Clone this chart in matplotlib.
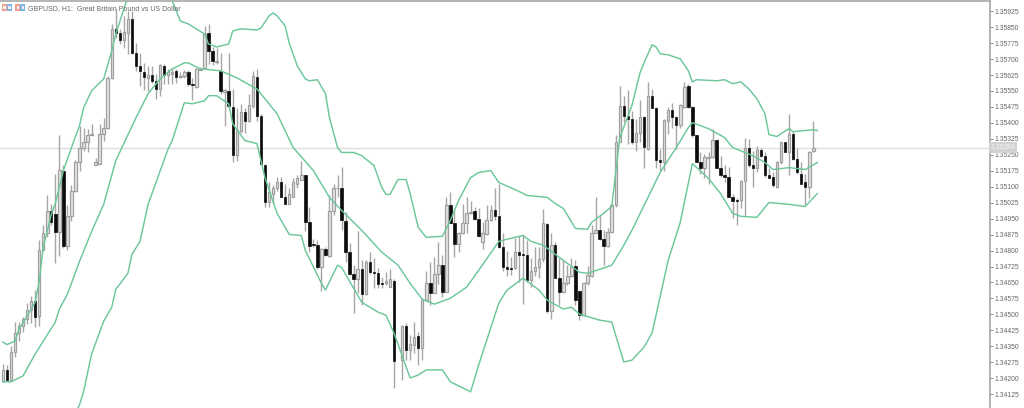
#!/usr/bin/env python3
"""GBPUSD H1 candlestick chart with Bollinger bands, MetaTrader look."""

import numpy as np
import matplotlib
matplotlib.use("Agg")
import matplotlib.pyplot as plt
from matplotlib.patches import Rectangle

nan = np.nan

# prices in 1e-5 units (134187 -> 1.34187), one slot per bar
opens = [
    134187, 134239, 134192, 134323, 134412, 134445, 134478, 134520, 134562, 134492,
    134801, 134881, 134984, 134970, 134886, 135176, 134820, 134961, 135082, 135218,
    135284, 135312, 135345, 135204, 135209, 135350, 135378, 135612, 135842, 135823,
    135790, 135823, 135889, 135729, 135668, 135640, 135612, 135626, 135598, 135560,
    135668, 135626, 135631, 135645, 135617, 135621, 135640, 135584, 135570, 135650,
    135659, 135823, 135739, 135687, 135645, 135546, 135551, 135476, 135251, 135364,
    135453, 135410, 135481, 135617, 135434, 135204, 135026, 135068, 135092, 135120,
    135050, 135021, 135054, 135115, 135134, 135153, 134933, 134829, 134825, 134721,
    134806, 134773, 134984, 135092, 135096, 134937, 134792, 134689, 134665, 134712,
    134595, 134745, 134698, 134693, 134646, 134646, 134628, 134656, nan, 134285,
    134445, 134332, 134356, 134398, 134342, 134567, 134646, 134600, 134689, 134731,
    134605, 135012, 134928, 134829, 134881, 134928, 134975, 134984, 134947, 134839,
    134876, 134942, 134989, 134961, 134815, 134721, 134717, 134717, 134792, 134782,
    134778, 134660, 134703, 134721, 134759, 134923, 134515, 134825, 134670, 134605,
    134646, 134679, 134726, 134609, 134496, 134646, 134679, 134881, 134895, 134853,
    134820, 134886, 135012, 135312, 135481, 135434, 135420, 135308, 135354, 135429,
    135279, 135528, 135471, 135228, 135214, 135410, 135462, 135429, 135392, 135476,
    135575, 135476, 135341, 135218, 135186, 135237, 135242, 135321, 135190, 135153,
    135148, 135054, 135040, 135040, 135129, 135284, 135200, 135186, 135275, 135246,
    135157, 135148, 135101, 135214, 135308, 135265, 135350, 135232, 135162, 135120,
    135101, 135270,
]
highs = [
    134266, 134262, 134351, 134464, 134464, 134487, 134553, 134586, 134614, 134848,
    134919, 135059, 135021, 135162, 135341, 135200, 135016, 135106, 135228, 135387,
    135378, 135373, 135396, 135237, 135396, 135424, 135621, 135865, 135935, 135842,
    135903, 135926, 135926, 135776, 135729, 135682, 135668, 135668, 135631, 135678,
    135678, 135654, 135654, 135654, 135640, 135650, 135650, 135612, 135659, 135664,
    135856, 135865, 135757, 135753, 135729, 135560, 135729, 135560, 135471, 135490,
    135471, 135537, 135645, 135654, 135443, 135209, 135120, 135106, 135148, 135148,
    135115, 135092, 135139, 135153, 135223, 135157, 135003, 134853, 134848, 134810,
    134815, 135059, 135115, 135153, 135195, 134979, 134834, 134731, 134890, 134754,
    134754, 134792, 134763, 134717, 134675, 134698, 134712, 134665, nan, 134450,
    134459, 134403, 134464, 134417, 134576, 134703, 134745, 134768, 134839, 134778,
    135050, 135073, 134989, 134886, 135021, 135050, 135035, 135003, 134998, 134933,
    135012, 135012, 135096, 135111, 134881, 134796, 134768, 134857, 134867, 134871,
    134848, 134763, 134815, 134815, 134993, 134928, 134881, 134839, 134763, 134754,
    134731, 134763, 134754, 134614, 134651, 134726, 134919, 135054, 134961, 134895,
    134904, 135021, 135341, 135575, 135528, 135556, 135457, 135420, 135509, 135434,
    135593, 135560, 135476, 135279, 135420, 135476, 135495, 135434, 135490, 135593,
    135584, 135481, 135345, 135261, 135256, 135261, 135373, 135326, 135246, 135200,
    135195, 135068, 135045, 135134, 135331, 135326, 135270, 135293, 135284, 135261,
    135190, 135167, 135223, 135312, 135308, 135443, 135364, 135284, 135214, 135162,
    135270, 135410,
]
lows = [
    134183, 134187, 134187, 134299, 134374, 134417, 134454, 134459, 134440, 134445,
    134801, 134862, 134919, 134740, 134773, 134810, 134801, 134937, 135073, 135176,
    135270, 135261, 135341, 135200, 135209, 135317, 135373, 135607, 135800, 135771,
    135753, 135725, 135725, 135645, 135575, 135556, 135551, 135589, 135513, 135528,
    135584, 135584, 135584, 135589, 135612, 135612, 135575, 135509, 135565, 135650,
    135654, 135678, 135673, 135678, 135537, 135387, 135471, 135214, 135223, 135354,
    135354, 135406, 135471, 135410, 135200, 135003, 135007, 135017, 135082, 135050,
    135021, 135017, 135050, 135096, 135134, 134890, 134792, 134815, 134712, 134609,
    134773, 134768, 134965, 135050, 134895, 134745, 134684, 134506, 134600, 134543,
    134590, 134689, 134623, 134623, 134623, 134637, 134628, 134154, nan, 134192,
    134285, 134285, 134318, 134262, 134285, 134562, 134543, 134600, 134642, 134581,
    134605, 134928, 134768, 134792, 134876, 134881, 134970, 134942, 134862, 134806,
    134871, 134937, 134942, 134810, 134703, 134679, 134684, 134712, 134651, 134548,
    134651, 134628, 134679, 134670, 134745, 134506, 134478, 134670, 134543, 134600,
    134637, 134675, 134543, 134473, 134492, 134637, 134675, 134881, 134848, 134731,
    134815, 134881, 135003, 135308, 135406, 135303, 135303, 135270, 135308, 135186,
    135275, 135471, 135190, 135176, 135176, 135350, 135378, 135279, 135378, 135471,
    135471, 135336, 135214, 135162, 135143, 135115, 135237, 135190, 135148, 135120,
    135050, 134951, 134919, 134998, 134961, 135195, 135101, 135167, 135242, 135148,
    135143, 135101, 135096, 135209, 135261, 135153, 135228, 135162, 135115, 135012,
    135045, 135265,
]
closes = [
    134239, 134192, 134323, 134412, 134445, 134478, 134520, 134562, 134487, 134801,
    134881, 134984, 134933, 134886, 135181, 134820, 134961, 135082, 135218, 135284,
    135312, 135345, 135350, 135214, 135350, 135378, 135612, 135842, 135823, 135790,
    135828, 135889, 135729, 135668, 135645, 135617, 135626, 135598, 135560, 135673,
    135626, 135640, 135640, 135617, 135621, 135640, 135584, 135579, 135654, 135654,
    135818, 135739, 135692, 135692, 135551, 135556, 135481, 135251, 135368, 135453,
    135410, 135485, 135621, 135434, 135209, 135026, 135073, 135092, 135120, 135050,
    135021, 135068, 135120, 135139, 135153, 134933, 134820, 134825, 134721, 134806,
    134778, 134984, 135092, 135096, 134942, 134792, 134689, 134665, 134712, 134595,
    134745, 134698, 134693, 134642, 134642, 134656, 134665, 134281, nan, 134445,
    134332, 134360, 134393, 134342, 134567, 134646, 134600, 134689, 134731, 134605,
    135012, 134928, 134829, 134881, 134928, 134975, 134979, 134947, 134867, 134881,
    134942, 134989, 134961, 134815, 134721, 134712, 134712, 134792, 134778, 134778,
    134660, 134703, 134721, 134759, 134928, 134515, 134825, 134670, 134605, 134646,
    134679, 134721, 134567, 134496, 134646, 134684, 134881, 134895, 134853, 134820,
    134886, 135012, 135312, 135481, 135434, 135420, 135308, 135354, 135429, 135289,
    135528, 135471, 135228, 135214, 135415, 135462, 135429, 135392, 135485, 135570,
    135476, 135341, 135218, 135186, 135242, 135242, 135321, 135190, 135153, 135148,
    135054, 135035, 135035, 135129, 135284, 135200, 135186, 135275, 135246, 135153,
    135143, 135106, 135214, 135308, 135265, 135350, 135232, 135167, 135115, 135101,
    135265, 135284,
]

# Bollinger bands, read at a subset of bars (last ones run past the axes top/bottom)
upper_bars = [0, 1, 3, 4, 6, 8, 9, 10, 12, 13, 15, 17, 19, 20, 22, 25, 27, 28, 30, 31, 36, 42,
              44, 46, 50, 51, 53, 56, 57, 59, 63, 64, 66, 67, 68, 70, 71, 73, 75, 76, 78, 80,
              81, 83, 84, 87, 89, 92, 94, 95, 96, 98, 100, 101, 103, 105, 109, 111, 113, 116,
              118, 121, 123, 128, 130, 135, 137, 139, 142, 145, 146, 149, 151, 153, 156, 158,
              159, 161, 162, 163, 165, 168, 170, 171, 172, 177, 179, 181, 183, 185, 187, 189,
              190, 192, 193, 195, 196, 201, 202]
upper_band = [134370, 134358, 134374, 134431, 134492, 134557, 134656, 134815, 134970, 135021,
              135176, 135284, 135387, 135471, 135551, 135607, 135739, 135818, 135935, 135996,
              136137, 135973, 135879, 135865, 135818, 135771, 135757, 135771, 135832, 135842,
              135837, 135846, 135903, 135917, 135903, 135856, 135776, 135668, 135607, 135598,
              135603, 135537, 135424, 135284, 135261, 135261, 135246, 135200, 135096, 135064,
              135064, 135134, 135134, 135068, 134909, 134862, 134867, 134942, 135035, 135143,
              135167, 135176, 135120, 135078, 135059, 135050, 135021, 134998, 134904, 134900,
              134933, 134975, 135007, 135331, 135481, 135635, 135682, 135767, 135757, 135725,
              135720, 135701, 135645, 135593, 135603, 135598, 135603, 135584, 135593, 135560,
              135514, 135443, 135345, 135336, 135350, 135373, 135359, 135368, 135364]

middle_bars = [0, 2, 5, 8, 13, 14, 16, 19, 22, 25, 28, 33, 36, 39, 42, 45, 46, 49, 54, 58, 62,
               63, 68, 72, 77, 81, 84, 89, 94, 98, 101, 104, 107, 111, 115, 118, 123, 125, 129,
               131, 134, 138, 143, 145, 151, 154, 156, 160, 163, 167, 170, 171, 175, 179, 181,
               186, 189, 191, 195, 199, 202]
middle_band = [134183, 134183, 134211, 134314, 134464, 134525, 134595, 134749, 134890, 135017,
               135223, 135424, 135537, 135607, 135654, 135682, 135682, 135654, 135645, 135612,
               135570, 135560, 135443, 135284, 135176, 135050, 134989, 134895, 134792, 134731,
               134646, 134571, 134548, 134576, 134628, 134707, 134843, 134853, 134871, 134843,
               134825, 134768, 134698, 134693, 134731, 134825, 134895, 135050, 135167, 135284,
               135378, 135401, 135373, 135331, 135284, 135246, 135214, 135181, 135190, 135181,
               135214]

lower_bars = [17, 19, 20, 22, 25, 27, 28, 31, 32, 34, 36, 41, 42, 45, 47, 50, 51, 53, 56, 57,
              60, 63, 64, 65, 68, 71, 74, 75, 79, 80, 82, 83, 84, 89, 93, 95, 97, 101, 103,
              105, 109, 111, 116, 118, 123, 125, 129, 133, 135, 139, 141, 143, 148, 151, 154,
              156, 159, 161, 165, 168, 171, 175, 178, 181, 183, 187, 190, 195, 199, 202]
lower_band = [133995, 134075, 134136, 134314, 134468, 134534, 134618, 134693, 134782, 134843,
              135017, 135279, 135317, 135495, 135490, 135504, 135528, 135528, 135490, 135396,
              135317, 135303, 135223, 135143, 134975, 134876, 134871, 134801, 134646, 134614,
              134693, 134731, 134721, 134557, 134511, 134496, 134412, 134201, 134215, 134239,
              134239, 134183, 134136, 134262, 134553, 134614, 134670, 134614, 134567, 134525,
              134534, 134501, 134473, 134464, 134276, 134285, 134346, 134412, 134754, 134933,
              135209, 135139, 135068, 134975, 134961, 134956, 135026, 135017, 135007, 135068]

tick_prices = [1.34125 + 0.00075 * k for k in range(25)]
title_text = "GBPUSD, H1:  Great Britain Pound vs US Dollar"

GREEN = "#6cc79a"
GREY = "#a6a6a6"
W, H = 1024, 408
AXIS_X = 990        # pixel column of the price axis line

fig = plt.figure(figsize=(W / 100, H / 100), dpi=100, facecolor="white")
ax = fig.add_axes([0, 0, AXIS_X / W, (H - 1) / H])

o = np.array(opens, dtype=float) / 1e5
h = np.array(highs, dtype=float) / 1e5
l = np.array(lows, dtype=float) / 1e5
c = np.array(closes, dtype=float) / 1e5
bars = np.arange(len(o))
ok = ~np.isnan(o)
bull = c >= o

# wicks, then bodies
ax.vlines(bars[ok], l[ok], h[ok], color=GREY, lw=1.0, zorder=2)
body_low = np.minimum(o, c)
body_h = np.abs(c - o)
ax.bar(bars[ok & bull], body_h[ok & bull], bottom=body_low[ok & bull], width=0.62,
       facecolor="#e4e4e4", edgecolor="#a0a0a0", lw=0.9, zorder=3)
ax.bar(bars[ok & ~bull], body_h[ok & ~bull], bottom=body_low[ok & ~bull], width=0.6,
       facecolor="#0c0c0c", edgecolor="#0c0c0c", lw=0.5, zorder=3)

# bands
for xs, ys in [(upper_bars, upper_band), (middle_bars, middle_band), (lower_bars, lower_band)]:
    ax.plot(xs, np.array(ys) / 1e5, color=GREEN, lw=1.05, zorder=4, solid_joinstyle="round")

# last price line
last = c[-1]
ax.axhline(last, color="#dedede", lw=1.0, zorder=1)

ax.set_xlim(-2.9 / 4.032, (AXIS_X - 2.9) / 4.032)
ax.set_ylim(1.34060, 1.35973)
ax.set_xticks([])
ax.set_yticks(tick_prices)
ax.set_yticklabels([f"{p:.5f}" for p in tick_prices], fontsize=4.9, color="#666666",
                    family="Liberation Sans")
ax.yaxis.tick_right()
ax.tick_params(axis="y", length=2.2, width=0.6, color="#777777", pad=1.0)
for side in ("left", "bottom"):
    ax.spines[side].set_visible(False)
for side in ("top", "right"):
    ax.spines[side].set_color("#a8a8a8")
    ax.spines[side].set_linewidth(1.2)

# price tag on the axis
ax.text(1.0005, last, f"{last:.5f}", transform=ax.get_yaxis_transform(), fontsize=4.9,
        color="#f4f4f4", family="Liberation Sans", va="center", ha="left", zorder=6,
        bbox=dict(boxstyle="square,pad=0.25", facecolor="#d2d2d2", edgecolor="none"),
        clip_on=False)

# header: two tiny toolbar icons and the symbol text
fig.text(28 / W, 1 - 8.2 / H, title_text, fontsize=5.0, color="#666666",
         family="Liberation Sans", va="center", ha="left")


def px_rect(x, y, w, hh, color):
    fig.add_artist(Rectangle((x / W, 1 - (y + hh) / H), w / W, hh / H, transform=fig.transFigure,
                             facecolor=color, edgecolor="none"))


px_rect(1.5, 4, 5, 7, "#f2a08c")
px_rect(6.5, 4, 5, 7, "#7cb6e4")
px_rect(15, 4, 5, 7, "#f2a08c")
px_rect(20, 4, 5, 7, "#7cb6e4")
for x0 in (3, 8, 16.5, 21.5):
    px_rect(x0, 6, 2.5, 3, "#f4f4f4")

fig.savefig("out.png", dpi=100)
